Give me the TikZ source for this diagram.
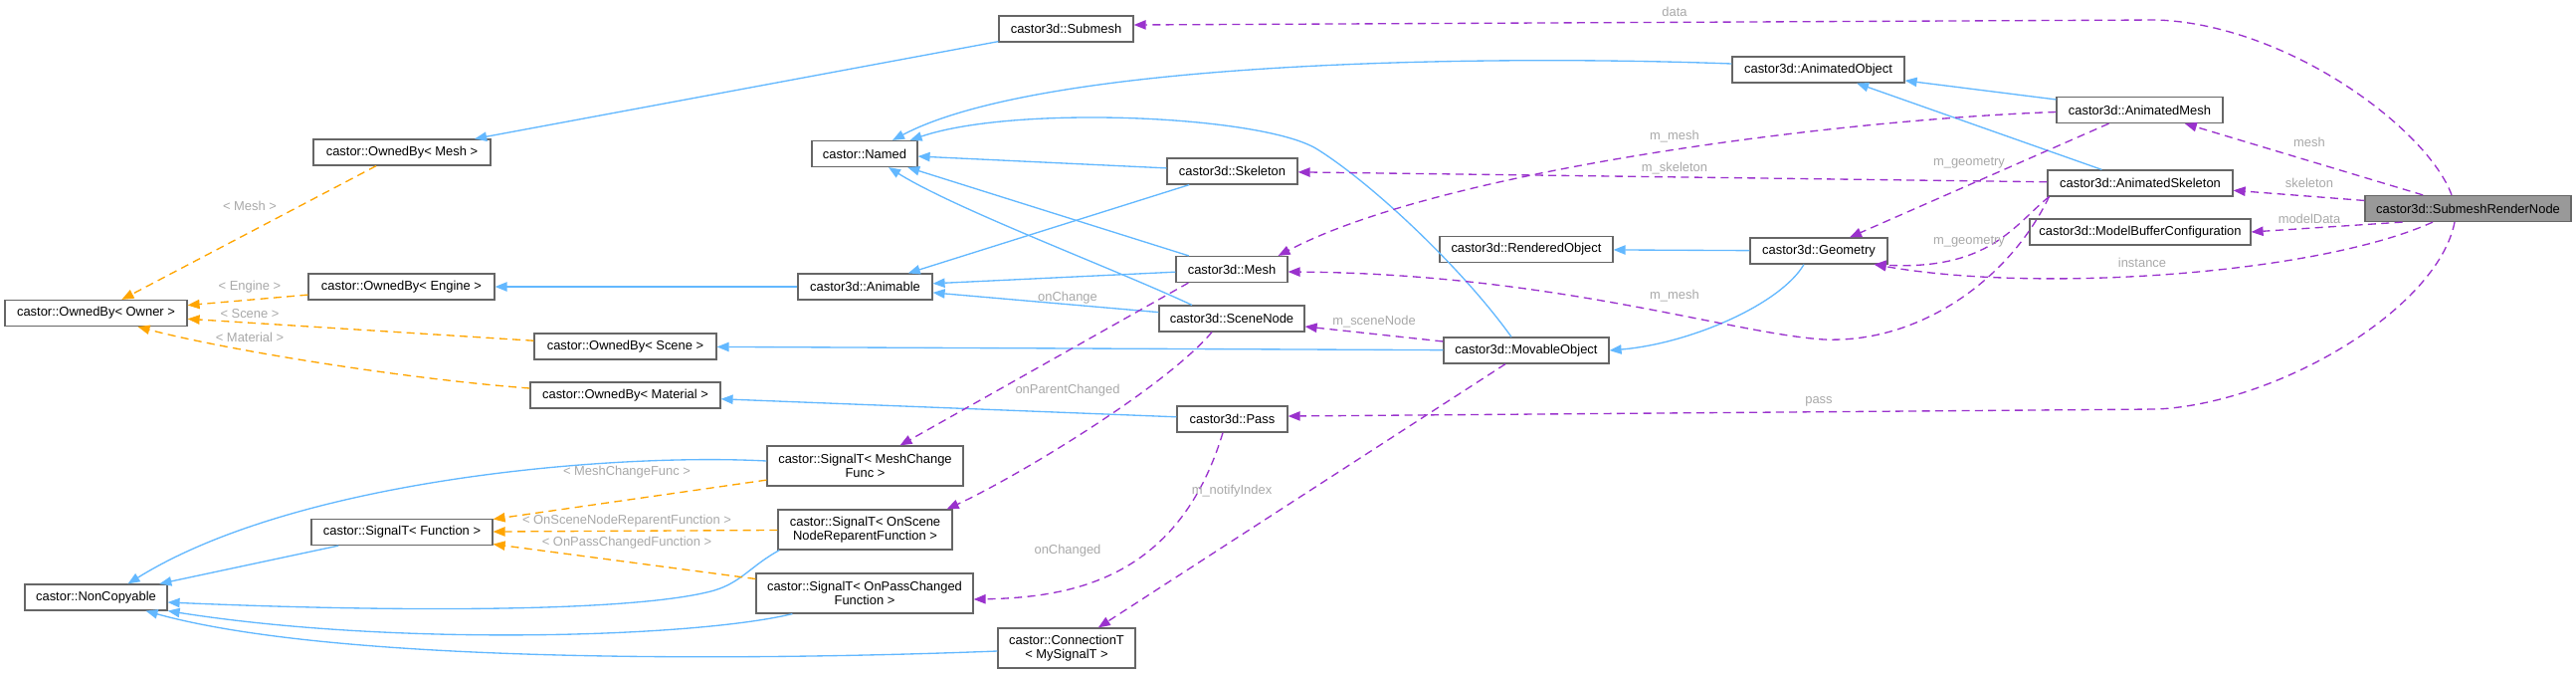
\documentclass[tikz,border=0pt]{standalone}
\usepackage{fontspec}
\setmainfont{Liberation Sans}
\usetikzlibrary{arrows.meta,calc}
\definecolor{nodeborder}{HTML}{666666}
\definecolor{inhblue}{HTML}{63B8FF}
\definecolor{tplorange}{HTML}{FFA500}
\definecolor{usepurple}{HTML}{9A32CD}
\definecolor{lblgray}{HTML}{A8A8A8}
\definecolor{rootfill}{HTML}{999999}
\newcommand\dgfont{\fontsize{9.7}{10.75}\selectfont}
\begin{document}
\begin{tikzpicture}[x=0.75pt,y=-0.75pt,
  cls/.style={draw=nodeborder, fill=white, line width=0.9pt, inner sep=0pt, minimum height=19.5pt, font=\dgfont, align=center},
  clstwo/.style={cls, minimum height=30pt},
  lbl/.style={text=lblgray, font=\dgfont, inner sep=0pt},
  inh/.style={draw=inhblue, line width=1pt, -{Triangle[length=9pt,width=7pt]}},
  tpl/.style={draw=tplorange, line width=1pt, dash pattern=on 6pt off 4pt, -{Triangle[length=9pt,width=7pt]}},
  usage/.style={draw=usepurple, line width=1pt, dash pattern=on 6pt off 4pt, -{Triangle[length=9pt,width=7pt]}}]
\useasboundingbox (0,0) rectangle (2589,676);

% nodes
\node[cls, minimum width=101.25pt] (sub) at (1071.5,29) {castor3d::Submesh};
\node[cls, minimum width=129.75pt] (aobj) at (1827.5,70) {castor3d::AnimatedObject};
\node[cls, minimum width=125.25pt] (amesh) at (2150.5,110.5) {castor3d::AnimatedMesh};
\node[cls, minimum width=133.5pt] (obmesh) at (404,153) {castor::OwnedBy< Mesh >};
\node[cls, minimum width=79.5pt] (named) at (869,154.5) {castor::Named};
\node[cls, minimum width=98.25pt] (skel) at (1238.5,172) {castor3d::Skeleton};
\node[cls, minimum width=139.5pt] (askel) at (2151,184) {castor3d::AnimatedSkeleton};
\node[cls, fill=rootfill, minimum width=155.25pt] (srn) at (2480.5,209.5) {castor3d::SubmeshRenderNode};
\node[cls, minimum width=166.5pt] (mbc) at (2151,233) {castor3d::ModelBufferConfiguration};
\node[cls, minimum width=130.5pt] (robj) at (1534,250.5) {castor3d::RenderedObject};
\node[cls, minimum width=103.5pt] (geom) at (1828,252) {castor3d::Geometry};
\node[cls, minimum width=140.25pt] (obeng) at (403.5,288) {castor::OwnedBy< Engine >};
\node[cls, minimum width=101.25pt] (anim) at (869.5,288) {castor3d::Animable};
\node[cls, minimum width=84pt] (mesh) at (1238,270.5) {castor3d::Mesh};
\node[cls, minimum width=137.25pt] (obown) at (96.5,314.5) {castor::OwnedBy< Owner >};
\node[cls, minimum width=137.25pt] (obscene) at (628.5,348) {castor::OwnedBy< Scene >};
\node[cls, minimum width=109.5pt] (scnode) at (1238,320) {castor3d::SceneNode};
\node[cls, minimum width=124.5pt] (movobj) at (1534,352) {castor3d::MovableObject};
\node[cls, minimum width=143.25pt] (obmat) at (628.5,397) {castor::OwnedBy< Material >};
\node[cls, minimum width=83.25pt] (pass) at (1238.5,421) {castor3d::Pass};
\node[clstwo, minimum width=147.75pt] (sigmesh) at (869.5,468) {castor::SignalT< MeshChange\\Func >};
\node[clstwo, minimum width=131.25pt] (sigscene) at (869.5,532) {castor::SignalT< OnScene\\NodeReparentFunction >};
\node[cls, minimum width=136.5pt] (sigfunc) at (404,534.5) {castor::SignalT< Function >};
\node[clstwo, minimum width=163.5pt] (sigpass) at (869,596) {castor::SignalT< OnPassChanged\\Function >};
\node[cls, minimum width=107.25pt] (noncopy) at (96.5,600) {castor::NonCopyable};
\node[clstwo, minimum width=103.5pt] (conn) at (1072,651) {castor::ConnectionT\\< MySignalT >};

% inheritance (blue)
\draw[inh] (sub) -- (obmesh);
\draw[inh] ($(aobj.west)+(0,-6)$) .. controls (1500,55) and (1050,60) .. ($(named.north)+(28,0)$);
\draw[inh] (amesh) -- (aobj);
\draw[inh] (askel) -- (aobj);
\draw[inh] (skel) -- (named);
\draw[inh] (skel) -- (anim);
\draw[inh] (mesh) -- (named);
\draw[inh] (mesh) -- (anim);
\draw[inh] ($(scnode.north)+(-40,0)$) .. controls (1120,270) and (960,210) .. ($(named.south)+(24,0)$);
\draw[inh] (scnode) -- (anim);
\draw[inh] ($(movobj.north)+(-15,0)$) .. controls (1470,270) and (1380,185) .. (1324,150) .. controls (1270,116) and (1020,105) .. ($(named.north east)+(-8,0)$);
\draw[inh] (anim) -- (obeng);
\draw[inh] (movobj) -- (obscene);
\draw[inh] (pass) -- (obmat);
\draw[inh] (geom) -- (robj);
\draw[inh] ($(geom.south)+(-15,0)$) .. controls (1790,305) and (1700,345) .. (movobj.east);
\draw[inh] ($(sigmesh.west)+(0,-5)$) .. controls (620,455) and (300,480) .. ($(noncopy.north)+(32,0)$);
\draw[inh] (sigfunc) -- (noncopy);
\draw[inh] ($(sigscene.south west)+(2,0)$) .. controls (755,568) and (745,585) .. (718,593) .. controls (640,615) and (400,615) .. ($(noncopy.east)+(0,5)$);
\draw[inh] ($(sigpass.south west)+(37,0)$) .. controls (700,640) and (400,650) .. (noncopy.south east);
\draw[inh] ($(conn.west)+(0,3)$) .. controls (800,662) and (350,670) .. ($(noncopy.south)+(50,0)$);

% template instantiation (orange)
\draw[tpl] (obmesh) -- (obown);
\draw[tpl] (obeng) -- (obown);
\draw[tpl] (obscene) -- (obown);
\draw[tpl] ($(obmat.west)+(0,-7)$) .. controls (400,380) and (220,350) .. ($(obown.south)+(42,0)$);
\draw[tpl] (sigmesh) -- (sigfunc);
\draw[tpl] (sigscene) -- (sigfunc);
\draw[tpl] (sigpass) -- (sigfunc);

\node[lbl] (lmesht) at (251,207) {< Mesh >};
\node[lbl] (lengt) at (251,288) {< Engine >};
\node[lbl] (lscenet) at (251,315) {< Scene >};
\node[lbl] (lmatt) at (251,339) {< Material >};
\node[lbl] (lmcf) at (630,474) {< MeshChangeFunc >};
\node[lbl] (lsnrf) at (630,523) {< OnSceneNodeReparentFunction >};
\node[lbl] (lpcf) at (630,545) {< OnPassChangedFunction >};

% usage (purple)
\draw[usage] ($(srn.north)+(-16.5,0)$) .. controls (2440,130) and (2300,25) .. (2168,20) -- ($(sub.east)+(0,-4)$);
\draw[usage] (srn) -- (amesh);
\draw[usage] (srn) -- (askel);
\draw[usage] ($(srn.south)+(-66,0)$) -- (mbc.east);
\draw[usage] ($(srn.south)+(-35.5,0)$) .. controls (2330,275) and (2050,295) .. ($(geom.south east)+(-14,0)$);
\draw[usage] ($(srn.south)+(-13.5,0)$) .. controls (2450,310) and (2290,405) .. (2168,411) -- ($(pass.east)+(0,-3)$);
\draw[usage] ($(amesh.west)+(0,2)$) .. controls (1850,120) and (1450,170) .. ($(mesh.north east)+(-10,0)$);
\draw[usage] (amesh) -- (geom);
\draw[usage] (askel) -- (skel);
\draw[usage] ($(askel.south west)+(2,0)$) .. controls (2025,225) and (2000,272) .. ($(geom.south east)+(-14,0)$);
\draw[usage] ($(askel.south west)+(2,0)$) .. controls (2020,280) and (1930,345) .. (1833,341) .. controls (1740,335) and (1560,275) .. ($(mesh.east)+(0,2.5)$);
\draw[usage] (movobj) -- (scnode);
\draw[usage] (movobj) -- (conn);
\draw[usage] ($(mesh.south west)+(13,0)$) -- ($(sigmesh.north)+(35,0)$);
\draw[usage] ($(scnode.south)+(-20,0)$) .. controls (1170,390) and (1020,480) .. ($(sigscene.north east)+(-6,0)$);
\draw[usage] ($(pass.south)+(-9.5,0)$) .. controls (1185,580) and (1080,600) .. ($(sigpass.east)+(0,6)$);

\node[lbl] (ldata) at (1683,12) {data};
\node[lbl] (lmeshr) at (2321,143) {mesh};
\node[lbl] (lskel) at (2321,184) {skeleton};
\node[lbl] (lmodel) at (2321,220) {modelData};
\node[lbl] (linst) at (2153,264) {instance};
\node[lbl] (lpass) at (1828,403) {pass};
\node[lbl] (lmm1) at (1683,137) {m\_mesh};
\node[lbl] (lmsk) at (1683,169) {m\_skeleton};
\node[lbl] (lmg1) at (1979,164) {m\_geometry};
\node[lbl] (lmg2) at (1979,243) {m\_geometry};
\node[lbl] (lmm2) at (1683,297) {m\_mesh};
\node[lbl] (lmsn) at (1381,323) {m\_sceneNode};
\node[lbl] (lonch) at (1073,299) {onChange};
\node[lbl] (lopc) at (1073,392) {onParentChanged};
\node[lbl] (lnot) at (1238,493) {m\_notifyIndex};
\node[lbl] (lonchd) at (1073,553) {onChanged};
\end{tikzpicture}
\end{document}
